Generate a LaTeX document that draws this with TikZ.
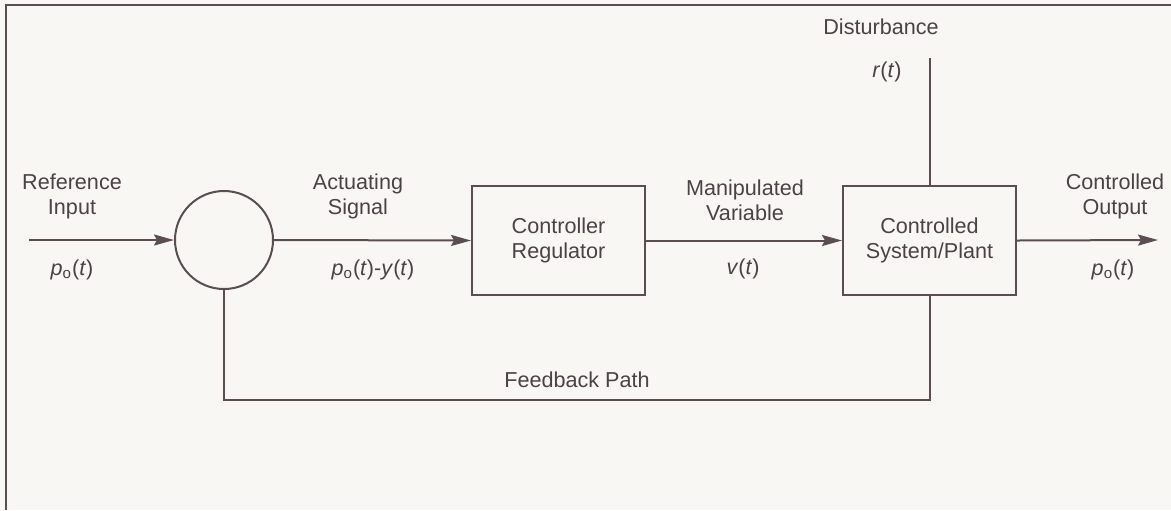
\documentclass[tikz,border=0pt]{standalone}
\usepackage{fontspec}
\setmainfont{Liberation Sans}
\usetikzlibrary{arrows.meta}
\definecolor{ink}{HTML}{5A4E52}
\definecolor{txt}{HTML}{4A4246}
\definecolor{paper}{HTML}{F9F7F3}
\newcommand{\po}{\textit{p}\textsubscript{o}(\textit{t})}
\begin{document}
\begin{tikzpicture}[x=0.5pt,y=-0.5pt,
  line/.style={draw=ink, line width=1pt},
  arr/.style={line, -{Stealth[length=10pt,width=5.5pt,inset=1.5pt]}},
  blk/.style={draw=ink, line width=1pt, minimum width=86.5pt, minimum height=54.5pt, inner sep=0pt, align=center, text=txt, font=\fontsize{10.8}{12.5}\selectfont},
  sumnode/.style={circle, draw=ink, line width=1pt, minimum size=49pt, inner sep=0pt},
  lbl/.style={align=center, text=txt, inner sep=0pt, font=\fontsize{10.8}{12.5}\selectfont}]
\useasboundingbox[fill=paper] (0,0) rectangle (1171,510);
\draw[line] (1171,5) -- (6,5) -- (6,510);
% blocks
\node[sumnode] (sum) at (224,240) {};
\node[blk] (ctrl) at (558.5,240.5) {Controller\\Regulator};
\node[blk] (plant) at (929.5,240.5) {Controlled\\System/Plant};
% free ends
\coordinate (in) at (29,240);
\coordinate (out) at (1158,240);
\coordinate (dist) at (929.5,58);
\coordinate (fb) at (929.5,400);
% connectors
\draw[arr] (in) -- (sum.west);
\draw[arr] (sum.east) -- (ctrl.west);
\draw[arr] (ctrl.east) -- (plant.west);
\draw[arr] (plant.east) -- (out);
\draw[line] (dist) -- (plant.north);
\draw[line] (plant.south) -- (fb) -| (sum.south);
% labels
\node[lbl] (refin) at (72,196) {Reference\\Input};
\node[lbl] (refp) at (72,270) {\po};
\node[lbl] (act) at (358,196) {Actuating\\Signal};
\node[lbl] (actp) at (373,270) {\po-\textit{y}(\textit{t})};
\node[lbl] (man) at (745,200) {Manipulated\\Variable};
\node[lbl] (manv) at (743,269) {\textit{v}(\textit{t})};
\node[lbl] (cout) at (1115,196) {Controlled\\Output};
\node[lbl] (coutp) at (1113,270) {\po};
\node[lbl] (dlbl) at (881,27) {Disturbance};
\node[lbl] (rt) at (887,72) {\textit{r}(\textit{t})};
\node[lbl] (fbl) at (577,380) {Feedback Path};
\end{tikzpicture}
\end{document}
